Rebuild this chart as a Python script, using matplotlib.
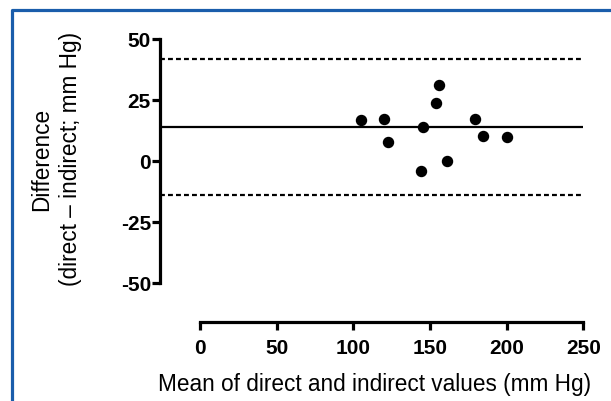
import matplotlib
matplotlib.use("Agg")
import matplotlib.pyplot as plt
from matplotlib.lines import Line2D

plt.rcParams["axes.unicode_minus"] = False

# Bland-Altman data
mean_vals = [104.8, 120.2, 122.6, 145.6, 144.1, 153.8, 155.6, 160.8, 179.1, 184.3, 200.4]
diff_vals = [16.8, 17.2, 7.9, 13.8, -4.2, 23.6, 31.1, 0.0, 17.2, 10.4, 9.8]
bias = 14.0
upper_loa = 41.8
lower_loa = -13.9
xticks = [0, 50, 100, 150, 200, 250]
yticks = [-50, -25, 0, 25, 50]

W, H = 611, 402
fig = plt.figure(figsize=(W / 100, H / 100), dpi=100)

# axes placed in pixel terms (prism-style offset axes)
x0, x1 = -26, 252
y0, y1 = -66, 51
px_l, px_r = 160, 200 + x1 * 1.534
py_b, py_t = 323, 162 - y1 * 2.44
ax = fig.add_axes([px_l / W, (H - py_b) / H, (px_r - px_l) / W, (py_b - py_t) / H])
ax.set_xlim(x0, x1)
ax.set_ylim(y0, y1)

ax.hlines(bias, x0, 250, color="black", lw=1.6)
ax.hlines([upper_loa, lower_loa], x0, 250, color="black", lw=1.6, linestyles=(0, (2.2, 1.4)))
ax.scatter(mean_vals, diff_vals, s=52, color="black", zorder=3, clip_on=False)

for s in ["top", "right"]:
    ax.spines[s].set_visible(False)
for s in ["left", "bottom"]:
    ax.spines[s].set_linewidth(2.3)
    ax.spines[s].set_capstyle("projecting")
ax.spines["left"].set_bounds(-50, 50)
ax.spines["bottom"].set_bounds(0, 250)

ax.set_xticks(xticks)
ax.set_yticks(yticks)
ax.tick_params(axis="both", width=2.3, length=6, direction="out")
ax.tick_params(axis="y", pad=0.5)
ax.tick_params(axis="x", pad=5.5)
tick_font = ["Liberation Sans Narrow", "Liberation Sans"]
for lab in ax.get_xticklabels() + ax.get_yticklabels():
    lab.set_fontfamily(tick_font)
    lab.set_fontweight("bold")
    lab.set_fontsize(15)

fig.text(375 / W, (H - 385) / H, "Mean of direct and indirect values (mm Hg)",
         ha="center", va="center", fontsize=16.3, family="Liberation Sans")
fig.text(42 / W, (H - 159) / H, "Difference", rotation=90,
         ha="center", va="center", fontsize=16.3, family="Liberation Sans")
fig.text(70 / W, (H - 159) / H, "(direct \u2013 indirect; mm Hg)", rotation=90,
         ha="center", va="center", fontsize=16.3, family="Liberation Sans")

# blue frame (left and top edges)
blue = "#1a5dab"
fig.add_artist(Line2D([11.5 / W, 11.5 / W, 1.0], [0.0, 1 - 11 / H, 1 - 11 / H],
                      transform=fig.transFigure, color=blue, lw=2.3))

fig.savefig("out.png", dpi=100)
